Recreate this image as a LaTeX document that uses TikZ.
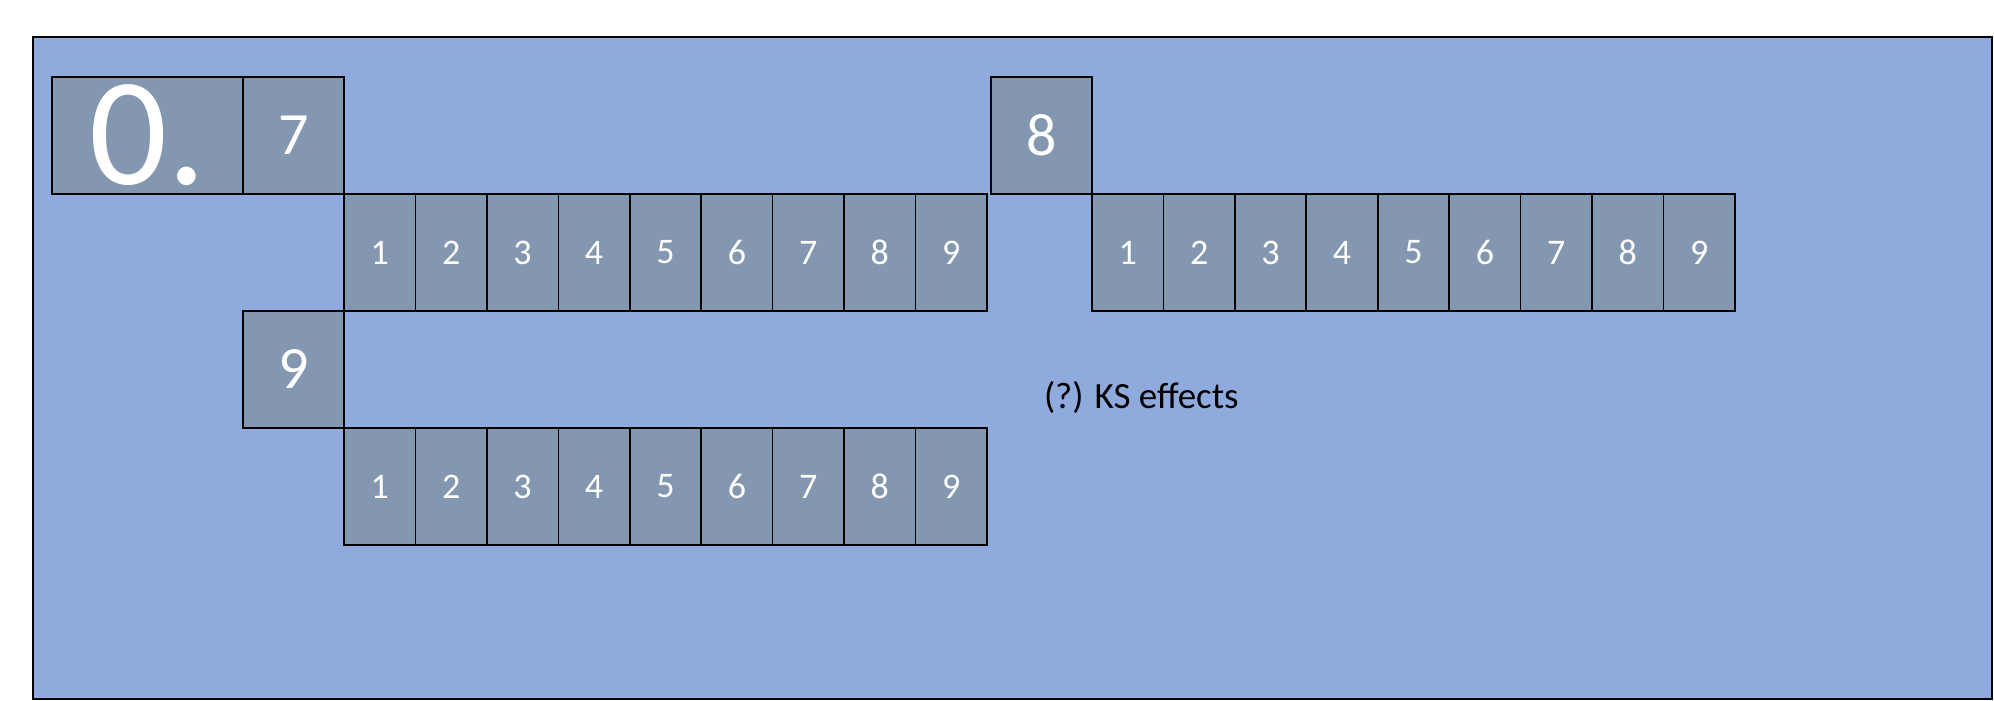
\documentclass[tikz,border=0pt]{standalone}
\usepackage{fontspec}
\setmainfont{Carlito}
\usetikzlibrary{positioning}
\definecolor{panelblue}{HTML}{8FAADC}
\definecolor{cellgray}{HTML}{8497B0}

\begin{document}
\begin{tikzpicture}
[x=0.5pt,y=-0.5pt,node distance=0pt,line width=0.8pt,%
  every node/.style={inner sep=0pt,outer sep=0pt},
  cell/.style={draw,fill=cellgray,text=white,minimum width=35.72pt,minimum height=58.5pt,font=\fontsize{18}{18}\selectfont},
  bigcell/.style={cell,minimum width=50.5pt,font=\fontsize{30}{30}\selectfont}]
\useasboundingbox (0,0) rectangle (1994,701);
\draw[fill=panelblue] (33,37) rectangle (1992,699);
%% leading digits
\node[bigcell,minimum width=95.5pt,font=\fontsize{77}{77}\selectfont,anchor=north west] (zero) at (52,77) {0.};
\node[bigcell,right=of zero] (d7) {7};
%% first row of cells
\node[cell,below right=of d7] (a1) {1};
\foreach \i [count=\j from 1] in {2,...,9}
  \node[cell,right=of a\j] (a\i) {\i};
\node[bigcell,above right=0pt and 2pt of a9] (d8) {8};
%% second row of cells
\node[cell,below right=of d8] (b1) {1};
\foreach \i [count=\j from 1] in {2,...,9}
  \node[cell,right=of b\j] (b\i) {\i};
\node[bigcell,below left=of a1] (d9) {9};
%% third row of cells
\node[cell,below right=of d9] (c1) {1};
\foreach \i [count=\j from 1] in {2,...,9}
  \node[cell,right=of c\j] (c\i) {\i};
\node[anchor=base west,font=\fontsize{18.5}{18.5}\selectfont] (ks) at (1044,408) {(?) KS effects};
\end{tikzpicture}
\end{document}
